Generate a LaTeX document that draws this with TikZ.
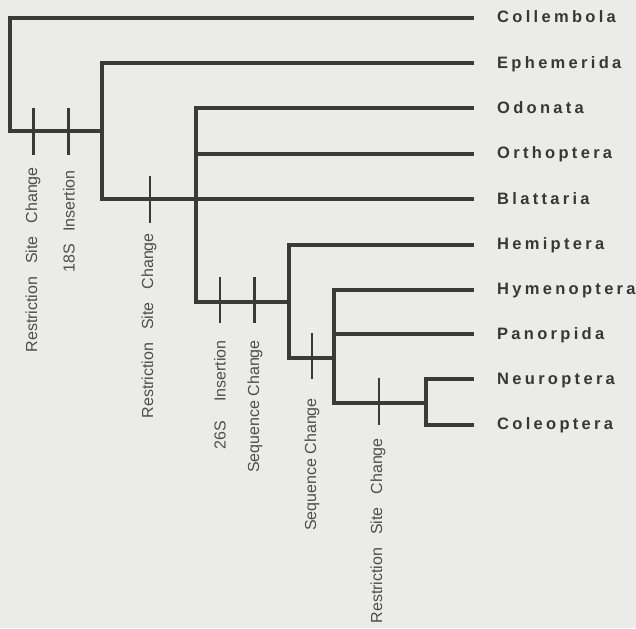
\documentclass[tikz,border=0pt]{standalone}
\usepackage{fontspec}
\setmainfont{Liberation Sans}
\newfontfamily\taxfont{Liberation Sans}[LetterSpace=20]
\definecolor{bgc}{RGB}{235,235,233}
\definecolor{linec}{RGB}{58,58,58}
\definecolor{txtc}{RGB}{55,55,55}
\definecolor{lblc}{RGB}{78,78,78}
\begin{document}
\begin{tikzpicture}[x=1pt,y=-1pt,
  branch/.style={draw=linec,line width=4pt,line join=miter},
  tickmark/.style={draw=linec,line width=2.6pt},
  taxon/.style={anchor=base west,inner sep=0pt,text=txtc,font=\fontsize{16.5}{18}\taxfont\bfseries},
  change/.style={anchor=east,rotate=90,inner sep=0pt,text=lblc,font=\fontsize{16}{18}\selectfont}]
\fill[bgc] (0,0) rectangle (636,628);
\useasboundingbox (0,0) rectangle (636,628);
% tip ends
\coordinate (e1) at (474,18);
\coordinate (e2) at (474,63.2);
\coordinate (e3) at (474,108.4);
\coordinate (e4) at (474,153.6);
\coordinate (e5) at (474,199.5);
\coordinate (e6) at (474,244.5);
\coordinate (e7) at (474,289.5);
\coordinate (e8) at (474,334);
\coordinate (e9) at (474,379);
\coordinate (e10) at (474,424.6);
% internal nodes
\coordinate (n1) at (10,131);
\coordinate (n2) at (102,131);
\coordinate (n2b) at (102,199.5);
\coordinate (n3) at (196,199.5);
\coordinate (n3o) at (196,153.6);
\coordinate (n3b) at (196,302);
\coordinate (n4) at (288.5,302);
\coordinate (n4b) at (288.5,358);
\coordinate (n5) at (334,358);
\coordinate (n5p) at (334,334);
\coordinate (n5b) at (334,403);
\coordinate (n6) at (426,403);
\coordinate (n6b) at (426,424.6);
% taxon labels
\node[taxon] (Col) at (497,23) {Collembola};
\node[taxon] (Eph) at (497,68.2) {Ephemerida};
\node[taxon] (Odo) at (497,113.4) {Odonata};
\node[taxon] (Ort) at (497,158.6) {Orthoptera};
\node[taxon] (Bla) at (497,204.5) {Blattaria};
\node[taxon] (Hem) at (497,249.5) {Hemiptera};
\node[taxon] (Hym) at (497,294.5) {Hymenoptera};
\node[taxon] (Pan) at (497,339) {Panorpida};
\node[taxon] (Neu) at (497,384) {Neuroptera};
\node[taxon] (Cle) at (497,429.6) {Coleoptera};
% branches
\draw[branch] (e1) -| (n1) -- (n2);
\draw[branch] (e2) -| (n2b) -- (e5);
\draw[branch] (e3) -| (n3b) -- (n4);
\draw[branch] (n3o) -- (e4);
\draw[branch] (e6) -| (n4b) -- (n5);
\draw[branch] (e7) -| (n5b) -- (n6);
\draw[branch] (n5p) -- (e8);
\draw[branch] (e9) -| (n6b) -- (e10);
% character changes
\coordinate (t1a) at (33.3,108); \coordinate (t1b) at (33.3,155);
\coordinate (t2a) at (68.3,108); \coordinate (t2b) at (68.3,155);
\coordinate (t3a) at (150,176); \coordinate (t3b) at (150,223);
\coordinate (t4a) at (220,277); \coordinate (t4b) at (220,323);
\coordinate (t5a) at (254.5,277); \coordinate (t5b) at (254.5,323);
\coordinate (t6a) at (312,333); \coordinate (t6b) at (312,379);
\coordinate (t7a) at (379,378); \coordinate (t7b) at (379,425);
\foreach \i in {1,...,7}{\draw[tickmark] (t\i a) -- (t\i b);}
\node[change] (c1) at (33,167) {Restriction\hspace{13pt}Site\hspace{13pt}Change};
\node[change] (c2) at (69,170) {18S\hspace{12pt}Insertion};
\node[change] (c3) at (149,233) {Restriction\hspace{13pt}Site\hspace{13pt}Change};
\node[change] (c4) at (220,340) {26S\hspace{19pt}Insertion};
\node[change] (c5) at (255,340) {Sequence Change};
\node[change] (c6) at (312,398) {Sequence Change};
\node[change] (c7) at (378,438) {Restriction\hspace{13pt}Site\hspace{13pt}Change};
\end{tikzpicture}
\end{document}
